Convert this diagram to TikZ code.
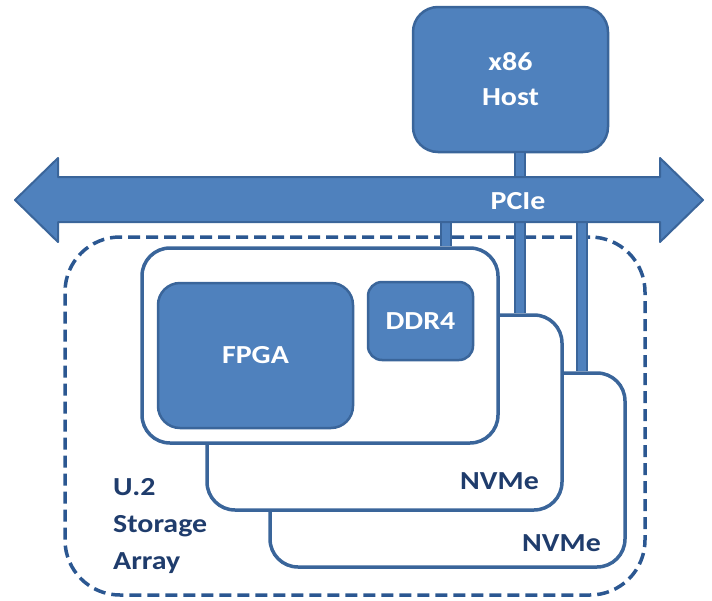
\documentclass[tikz,border=0pt]{standalone}
\usepackage{fontspec}
\setmainfont{Carlito}[FakeStretch=1.15]
\definecolor{boxfill}{HTML}{4F81BD}
\definecolor{boxline}{HTML}{3A659A}
\definecolor{navy}{HTML}{1F3C6C}
\definecolor{dashc}{HTML}{2B5791}
\begin{document}
\begin{tikzpicture}[x=1pt,y=-1pt,
  bluebox/.style={rectangle, fill=boxfill, draw=boxline, line width=2.5pt, text=white,
    font=\fontsize{26}{35}\selectfont\bfseries, align=center, inner sep=0pt},
  card/.style={rectangle, fill=white, draw=boxline, line width=3.5pt, rounded corners=28pt, inner sep=0pt},
  bus/.style={draw=boxline, line width=2pt, double=boxfill, double distance=8pt},
  navytext/.style={text=navy, font=\fontsize{26}{37}\selectfont\bfseries, inner sep=0pt}
]
\useasboundingbox (0,0) rectangle (712,600);
% dashed storage array outline
\node[draw=dashc, line width=3.5pt, dash pattern=on 12pt off 6pt, rounded corners=55pt,
  minimum width=580pt, minimum height=358pt, inner sep=0pt] (array) at (355,416) {};
% connector anchor coordinates on the bus
\coordinate (t1) at (446,222);
\coordinate (t2) at (520,222);
\coordinate (t3) at (582,222);
\coordinate (hb) at (520,178);
% cards
\node[card, minimum width=355pt, minimum height=194pt] (nvme2) at (447.5,470) {};
\node[card, minimum width=355pt, minimum height=195pt] (nvme1) at (384.5,412.5) {};
\draw[bus] (t3) -- (t3 |- nvme2.north);
\draw[bus] (t2) -- (t2 |- nvme1.north);
\node[card, minimum width=356pt, minimum height=195pt] (card1) at (320,345.5) {};
\draw[bus] (t1) -- (t1 |- card1.north);
\node[bluebox, rounded corners=22pt, minimum width=195pt, minimum height=145pt] (fpga) at (255.5,355.5) {FPGA};
\node[bluebox, rounded corners=14pt, minimum width=105pt, minimum height=78pt] (ddr4) at (420.5,321) {DDR4};
\node[navytext, anchor=east] (n1label) at (539,481) {NVMe};
\node[navytext, anchor=east] (n2label) at (601,543) {NVMe};
\node[navytext, anchor=west, align=left] (arraylabel) at (113,526) {U.2\\Storage\\Array};
% host
\node[bluebox, rounded corners=25pt, minimum width=195pt, minimum height=145pt] (host) at (510.5,79.5) {x86\\Host};
\draw[bus] (host.south -| hb) -- (hb);
% PCIe double arrow
\draw[fill=boxfill, draw=boxline, line width=2pt, line join=round]
  (15,200) -- (58,158) -- (58,177) -- (660,177) -- (660,158) -- (703,200)
  -- (660,242) -- (660,222) -- (58,222) -- (58,242) -- cycle;
\node[text=white, font=\fontsize{26}{30}\selectfont\bfseries, inner sep=0pt] (pcie) at (518,201) {PCIe};
\end{tikzpicture}
\end{document}
